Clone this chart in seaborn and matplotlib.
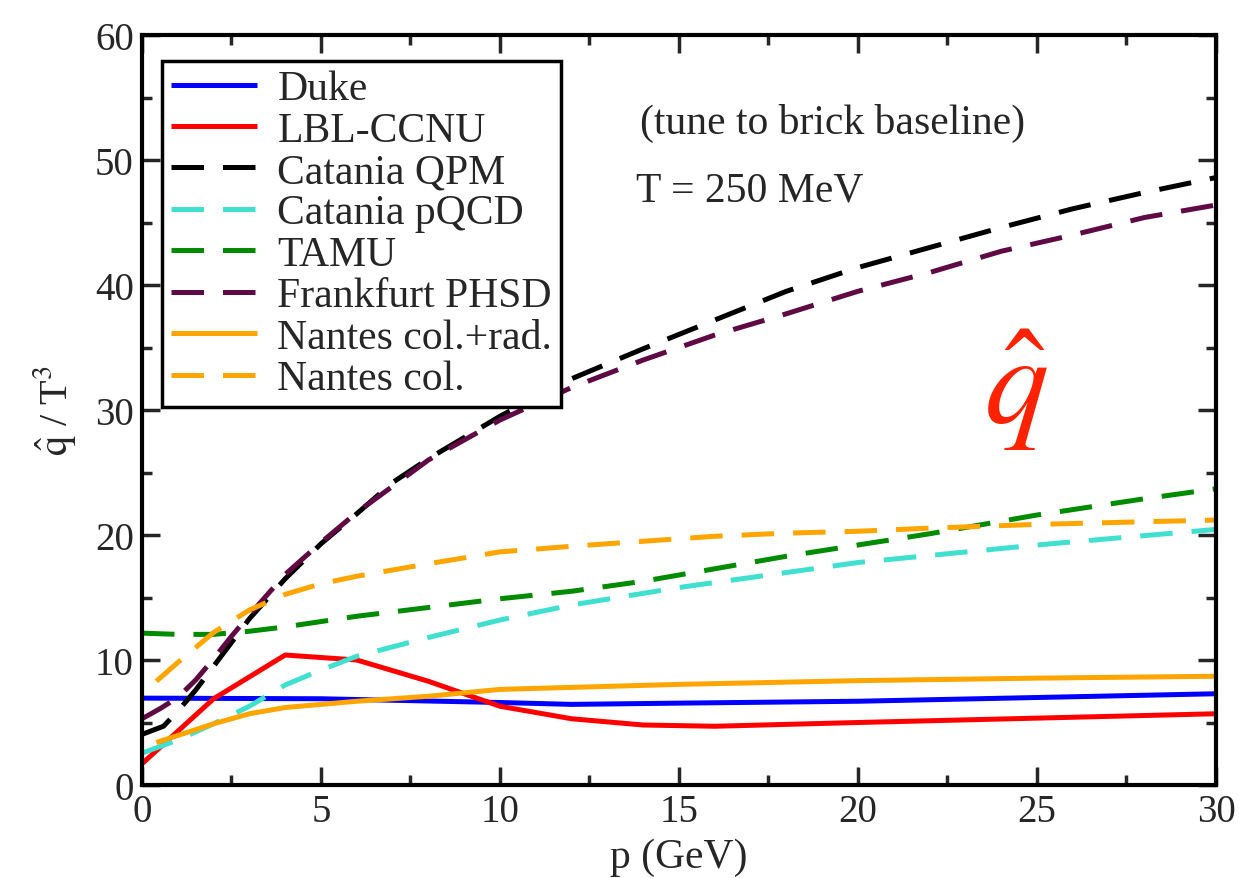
import numpy as np
import pandas as pd
import matplotlib
matplotlib.use("Agg")
import matplotlib.pyplot as plt
import seaborn as sns

# ---- data ----
duke_p = [0, 5, 10, 12, 15, 20, 25, 30]
duke_q = [6.95, 6.9, 6.6, 6.45, 6.55, 6.7, 7.0, 7.3]

lbl_p = [0, 2, 4, 6, 8, 10, 12, 14, 16, 18, 20, 25, 30]
lbl_q = [1.7, 6.9, 10.4, 10.0, 8.3, 6.3, 5.3, 4.8, 4.7, 4.85, 5.0, 5.35, 5.7]

qpm_p = [0, 0.6, 1, 1.5, 2, 2.5, 3, 4, 5, 6, 7, 8, 10, 12, 14, 16, 18, 20, 22, 24, 26, 28, 30]
qpm_q = [4.05, 4.7, 5.9, 7.6, 9.5, 11.4, 13.3, 16.5, 19.3, 21.7, 24.2, 26.1, 29.5, 32.5,
         34.9, 37.2, 39.5, 41.4, 43.0, 44.6, 46.1, 47.4, 48.6]

pqcd_p = [0, 1, 2, 3, 4, 5, 6, 8, 10, 12, 15, 20, 25, 30]
pqcd_q = [2.55, 3.6, 4.9, 6.3, 8.0, 9.2, 10.3, 11.8, 13.2, 14.4, 15.8, 17.8, 19.2, 20.45]

tamu_p = [0, 1, 2, 3, 4, 6, 8, 10, 12, 14, 16, 18, 20, 22, 25, 28, 30]
tamu_q = [12.15, 12.05, 12.05, 12.3, 12.65, 13.5, 14.2, 14.9, 15.5, 16.3, 17.3, 18.3,
          19.2, 20.1, 21.6, 22.9, 23.7]

phsd_p = [0, 0.5, 1, 1.5, 2, 2.5, 3, 4, 5, 6, 7, 8, 10, 12, 14, 16, 18, 20, 22, 24, 26, 28, 30]
phsd_q = [5.3, 6.1, 7.0, 8.4, 10.1, 11.9, 13.6, 16.85, 19.4, 21.8, 23.9, 26.0, 29.2, 31.8,
          34.0, 36.0, 37.7, 39.5, 41.0, 42.7, 44.0, 45.4, 46.4]

ncr_p = [0.4, 2, 3, 4, 6, 8, 10, 15, 20, 25, 30]
ncr_q = [3.4, 4.9, 5.7, 6.2, 6.7, 7.1, 7.65, 8.05, 8.35, 8.55, 8.7]

ncol_p = [0.4, 1, 2, 3, 4, 5, 6, 8, 10, 12, 14, 16, 18, 20, 22, 25, 30]
ncol_q = [8.3, 9.8, 12.2, 14.0, 15.25, 16.1, 16.7, 17.7, 18.65, 19.1, 19.5, 19.9, 20.15,
          20.3, 20.55, 20.85, 21.2]

labels = ["Duke", "LBL-CCNU", "Catania QPM", "Catania pQCD", "TAMU",
          "Frankfurt PHSD", "Nantes col.+rad.", "Nantes col."]
colors = ["#0000ff", "#ff0000", "#000000", "#40e0d0", "#008b00",
          "#5f0a44", "#ffa500", "#ffa500"]
dashed = [False, False, True, True, True, True, False, True]
series = [(duke_p, duke_q), (lbl_p, lbl_q), (qpm_p, qpm_q), (pqcd_p, pqcd_q),
          (tamu_p, tamu_q), (phsd_p, phsd_q), (ncr_p, ncr_q), (ncol_p, ncol_q)]

xticks = [0, 5, 10, 15, 20, 25, 30]
yticks = [0, 10, 20, 30, 40, 50, 60]

# ---- style ----
sns.set_style("ticks")
plt.rcParams["font.family"] = ["Liberation Serif", "DejaVu Serif"]
plt.rcParams["mathtext.fontset"] = "stix"

fig = plt.figure(figsize=(12.39, 8.79), dpi=100)
ax = fig.add_axes([0.1146, 0.1058, 0.9814 - 0.1146, 0.959 - 0.1058])

lw = 3.6
for (p, q), lab, c, d in zip(series, labels, colors, dashed):
    df = pd.DataFrame({"p": p, "q": q})
    sns.lineplot(data=df, x="p", y="q", ax=ax, color=c, linewidth=lw, label=lab,
                 estimator=None, sort=False)
    line = ax.get_lines()[-1]
    if d:
        line.set_dashes((6.5, 3.8))
    line.set_solid_capstyle("butt")
    line.set_dash_capstyle("butt")

ax.set_xlim(0, 30)
ax.set_ylim(0, 60)
ax.set_xticks(xticks)
ax.set_yticks(yticks)
ax.set_xticks([2.5, 7.5, 12.5, 17.5, 22.5, 27.5], minor=True)
ax.set_yticks([5, 15, 25, 35, 45, 55], minor=True)
ax.tick_params(which="both", direction="in", top=True, right=True, width=2.5,
               labelsize=28, pad=6)
ax.tick_params(which="major", length=13)
ax.tick_params(which="minor", length=7)
for s in ax.spines.values():
    s.set_linewidth(3)
    s.set_color("black")

ax.set_xlabel("p (GeV)", fontsize=30, labelpad=5)
ax.set_ylabel(r"$\hat{\mathrm{q}}$ / T$^3$", fontsize=29)
ax.yaxis.set_label_coords(-0.06, 0.5)

ax.text(19.3, 53.0, "(tune to brick baseline)", fontsize=30, ha="center", va="center")
ax.text(13.8, 47.6, "T = 250 MeV", fontsize=30, ha="left", va="center")
ax.text(24.4, 31.7, r"$\hat{q}$", fontsize=92, color="#ff2200", ha="center", va="center")

leg = ax.legend(loc="upper left", bbox_to_anchor=(0.0186, 0.966), borderaxespad=0,
                fontsize=30, frameon=True, fancybox=False, framealpha=1,
                edgecolor="black", handlelength=2.05, handletextpad=0.5,
                labelspacing=0.07, borderpad=0.22)
leg.get_frame().set_linewidth(2.5)
for h in leg.get_lines():
    h.set_linewidth(lw)

fig.savefig("out.png", dpi=100)
